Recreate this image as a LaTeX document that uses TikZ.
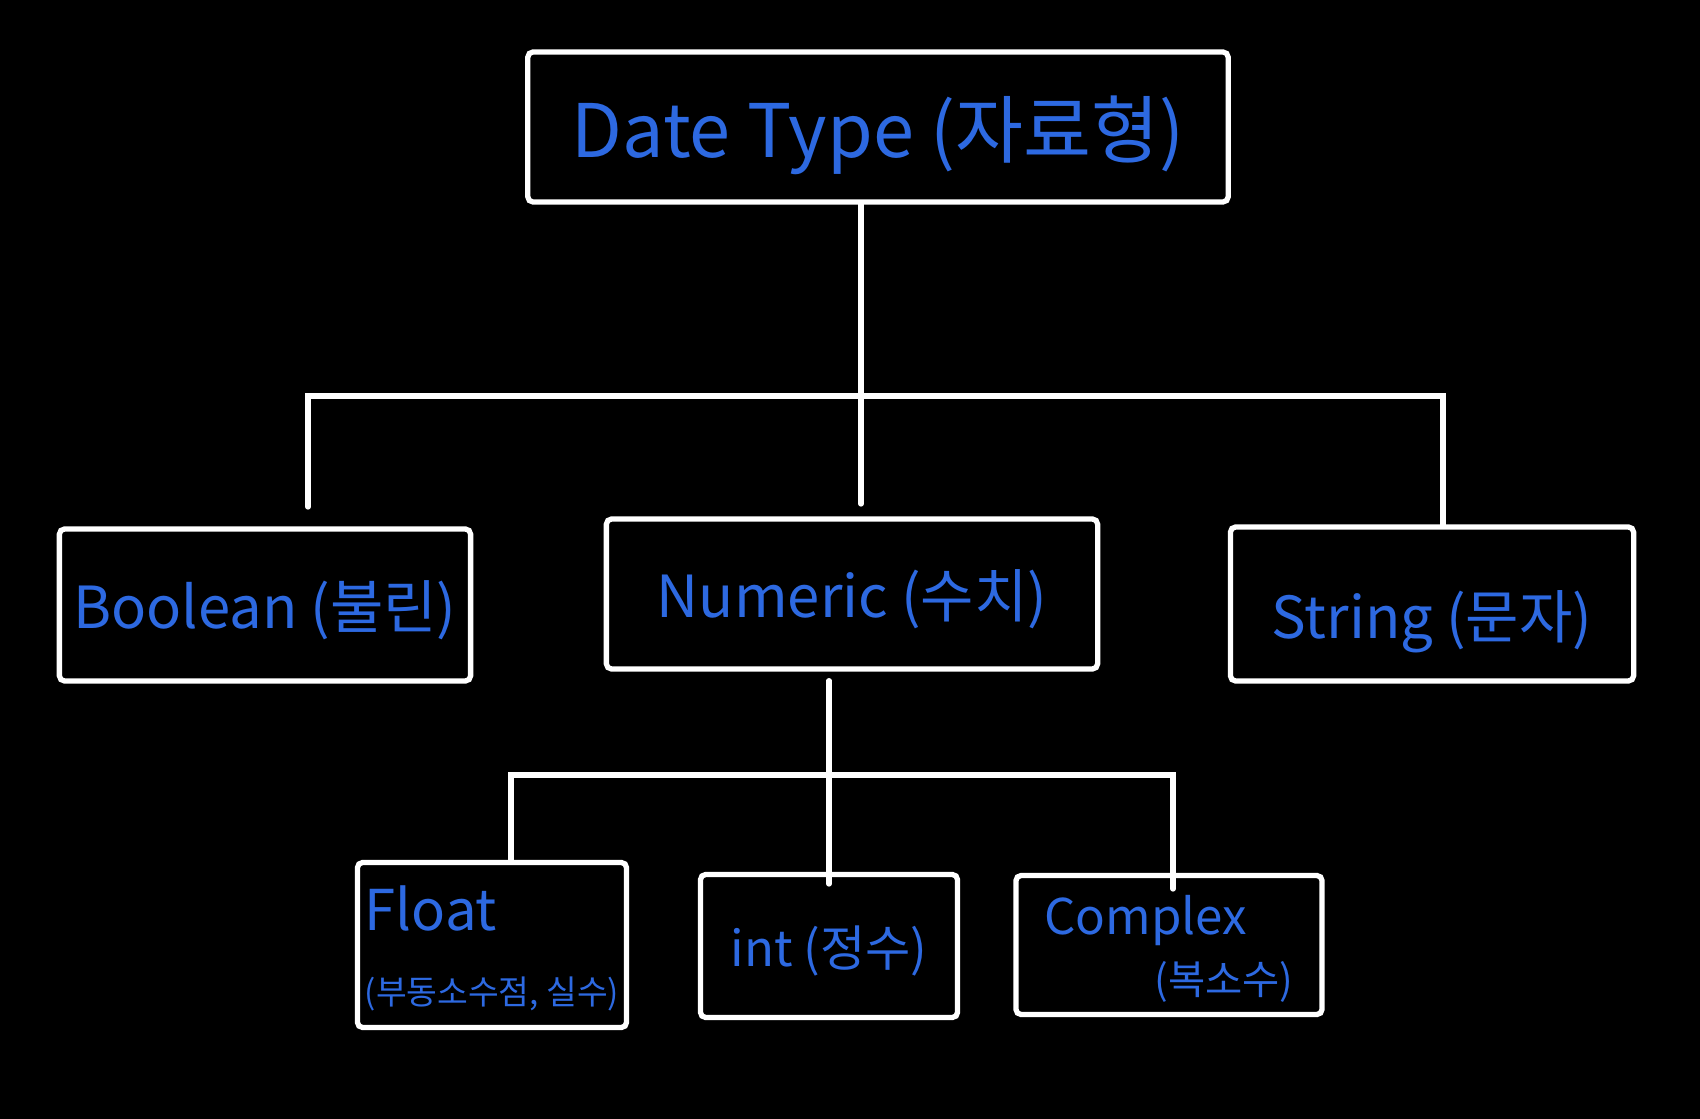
\documentclass[tikz,border=0pt]{standalone}
\usepackage{fontspec}
\setmainfont{Noto Sans CJK KR}
\usepackage{tikz}
\usetikzlibrary{positioning}
\definecolor{inkblue}{RGB}{45,105,225}
\tikzset{%
  box/.style={draw=white,line width=1.5pt,rounded corners=1.5pt,align=center,inner sep=2pt,text depth=0pt,text=inkblue},
  link/.style={draw=white,line width=1.5pt,line cap=round}%
}

\begin{document}
\begin{tikzpicture}[
    x=0.01cm,
    y=-0.01cm,
    bigfont/.style={font=\fontsize{21}{25}\selectfont},
    midfont/.style={font=\fontsize{16.5}{20}\selectfont},
    smallfont/.style={font=\fontsize{14}{17}\selectfont}
]

% Background
\fill[black] (0,0) rectangle (1700,1119);
\useasboundingbox (0,0) rectangle (1700,1119);

% Nodes
\node[box, bigfont, minimum width=7cm, minimum height=1.5cm] (datatype) at (878,127) {Date Type (자료형)};

\node[box, midfont, minimum width=4.11cm, minimum height=1.52cm] (boolean) at (265,605) {Boolean (불린)};
\node[box, midfont, minimum width=4.91cm, minimum height=1.5cm] (numeric) at (852,594) {Numeric (수치)};
\node[box, midfont, minimum width=4.03cm, minimum height=1.54cm] (string) at (1432,604) {\raisebox{-6pt}{String (문자)}};

\node[box, smallfont, align=left, minimum width=2.69cm, minimum height=1.65cm] (float) at (492,945)
  {{\fontsize{16}{19}\selectfont Float}\\[4pt]{\fontsize{9.5}{12}\selectfont (부동소수점, 실수)}};
\node[box, smallfont, minimum width=2.57cm, minimum height=1.43cm] (int) at (829,946) {int (정수)};
\node[box, smallfont, align=left, minimum width=3.06cm, minimum height=1.39cm] (complex) at (1169,945)
  {Complex\\\hspace*{1.1cm}{\fontsize{11.5}{14}\selectfont (복소수)}};

% Line ends
\coordinate (mainend) at (861,504);
\coordinate (busleft) at (308,396);
\coordinate (busright) at (1443,396);
\coordinate (boolend) at (308,507);
\coordinate (subleft) at (511,775);
\coordinate (subright) at (1173,775);
\coordinate (intend) at (829,884);
\coordinate (complexend) at (1173,889);

% Lines
\draw[link] (datatype.south -| mainend) -- (mainend);
\draw[link] (boolend) -- (busleft) -- (busright) -- (string.north -| busright);
\draw[link] (numeric.south -| intend) ++(0,9) -- (intend);
\draw[link] (float.north -| subleft) -- (subleft) -- (subright) -- (complexend);

\end{tikzpicture}
\end{document}
